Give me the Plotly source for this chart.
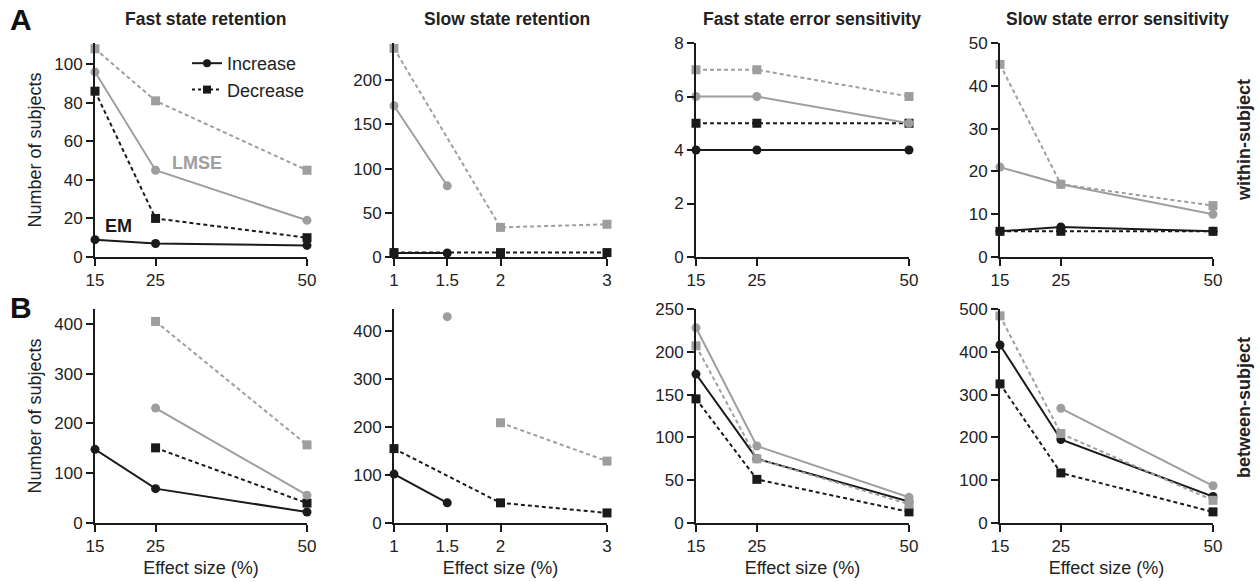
import plotly.graph_objects as go

# ---------------- data ----------------
x_fast = [15, 25, 50]
x_slow = [1, 1.5, 2, 3]

# Row A: within-subject
a1_em_inc = [9, 7, 6]
a1_em_dec = [86, 20, 10]
a1_lm_inc = [96, 45, 19]
a1_lm_dec = [108, 81, 45]

a2_em_inc = [4.5, 4.5, None, None]
a2_em_dec = [5, None, 5, 5]
a2_lm_inc = [171, 80.5, None, None]
a2_lm_dec = [236, None, 33.5, 37]

a3_em_inc = [4, 4, 4]
a3_em_dec = [5, 5, 5]
a3_lm_inc = [6, 6, 5]
a3_lm_dec = [7, 7, 6]

a4_em_inc = [6, 7, 6]
a4_em_dec = [6, 6, 6]
a4_lm_inc = [21, 17, 10]
a4_lm_dec = [45, 17, 12]

# Row B: between-subject
b1_em_inc = [148, 69, 22]
b1_em_dec = [None, 151, 40]
b1_lm_inc = [None, 231, 56]
b1_lm_dec = [None, 405, 157]

b2_em_inc = [102, 42, None, None]
b2_em_dec = [155, None, 42, 21]
b2_lm_inc = [None, 430, None, None]
b2_lm_dec = [None, None, 209, 129]

b3_em_inc = [174, 75, 25]
b3_em_dec = [145, 51, 13]
b3_lm_inc = [228, 90, 30]
b3_lm_dec = [207, 75, 22]

b4_em_inc = [416, 195, 62]
b4_em_dec = [325, 117, 26]
b4_lm_inc = [None, 268, 87]
b4_lm_dec = [484, 209, 53]

titles = ["Fast state retention", "Slow state retention",
          "Fast state error sensitivity", "Slow state error sensitivity"]
row_labels = ["within-subject", "between-subject"]

# ---------------- styling ----------------
BLACK = "#1a1a1a"
GRAY = "#9e9e9e"
TXT = "#222222"
FONT = "Liberation Sans, Arial, sans-serif"
W, H = 1260, 582
TICK = 17
LAB = 18

panels = [
    (x_fast, (a1_em_inc, a1_em_dec, a1_lm_inc, a1_lm_dec), 111, 20),
    (x_slow, (a2_em_inc, a2_em_dec, a2_lm_inc, a2_lm_dec), 242, 50),
    (x_fast, (a3_em_inc, a3_em_dec, a3_lm_inc, a3_lm_dec), 8, 2),
    (x_fast, (a4_em_inc, a4_em_dec, a4_lm_inc, a4_lm_dec), 50, 10),
    (x_fast, (b1_em_inc, b1_em_dec, b1_lm_inc, b1_lm_dec), 430, 100),
    (x_slow, (b2_em_inc, b2_em_dec, b2_lm_inc, b2_lm_dec), 446, 100),
    (x_fast, (b3_em_inc, b3_em_dec, b3_lm_inc, b3_lm_dec), 250, 50),
    (x_fast, (b4_em_inc, b4_em_dec, b4_lm_inc, b4_lm_dec), 500, 100),
]

col_px = [(95, 307), (394, 607), (696, 909), (1000, 1213)]
row_px = [(43, 257), (309, 523)]

fig = go.Figure()
layout = {}

for i, (xv, series, ytop, dt) in enumerate(panels):
    r, c = divmod(i, 4)
    n = i + 1
    xa = "x" if n == 1 else f"x{n}"
    ya = "y" if n == 1 else f"y{n}"
    em_inc, em_dec, lm_inc, lm_dec = series
    specs = [
        (em_inc, BLACK, "solid", "circle"),
        (em_dec, BLACK, "4px,3px", "square"),
        (lm_inc, GRAY, "solid", "circle"),
        (lm_dec, GRAY, "4px,3px", "square"),
    ]
    for yv, col, dash, sym in specs:
        fig.add_trace(go.Scatter(
            x=xv, y=yv, xaxis=xa, yaxis=ya, mode="lines+markers",
            line=dict(color=col, width=2, dash=dash),
            marker=dict(color=col, size=9, symbol=sym),
            connectgaps=True, cliponaxis=False, showlegend=False,
            hoverinfo="x+y"))
    x0, x1 = col_px[c]
    y0, y1 = row_px[r]
    xkey = "xaxis" if n == 1 else f"xaxis{n}"
    ykey = "yaxis" if n == 1 else f"yaxis{n}"
    layout[xkey] = dict(
        domain=[x0 / W, x1 / W], anchor=ya, range=[xv[0], xv[-1]],
        automargin=False,
        tickmode="array", tickvals=xv, ticktext=[str(v) for v in xv],
        showline=True, linecolor=BLACK, linewidth=2, ticks="outside",
        ticklen=7, tickwidth=2, tickcolor=BLACK, showgrid=False,
        zeroline=False, tickfont=dict(size=TICK, color=TXT, family=FONT),
        title=dict(text="Effect size (%)" if r == 1 else "",
                   font=dict(size=LAB, color=TXT, family=FONT), standoff=6),
    )
    layout[ykey] = dict(
        domain=[1 - y1 / H, 1 - y0 / H], anchor=xa, range=[0, ytop],
        automargin=False,
        tick0=0, dtick=dt, showline=True, linecolor=BLACK, linewidth=2,
        ticks="outside", ticklen=7, tickwidth=2, tickcolor=BLACK,
        showgrid=False, zeroline=False,
        tickfont=dict(size=TICK, color=TXT, family=FONT),
        title=dict(text="Number of subjects" if c == 0 else "",
                   font=dict(size=LAB, color=TXT, family=FONT), standoff=8),
    )

# legend entries (dummy traces)
fig.add_trace(go.Scatter(x=[None], y=[None], mode="lines+markers", name="Increase",
                         line=dict(color=BLACK, width=2),
                         marker=dict(color=BLACK, size=8, symbol="circle")))
fig.add_trace(go.Scatter(x=[None], y=[None], mode="lines+markers", name="Decrease",
                         line=dict(color=BLACK, width=2, dash="dot"),
                         marker=dict(color=BLACK, size=8, symbol="square")))

annotations = []
title_cx = [205, 507, 812, 1117]
for t, cx in zip(titles, title_cx):
    annotations.append(dict(text=f"<b>{t}</b>", x=cx / W, y=1 - 19 / H,
                            xref="paper", yref="paper", showarrow=False,
                            font=dict(size=17.5, color=TXT, family=FONT),
                            xanchor="center", yanchor="middle"))
annotations.append(dict(text="<b>A</b>", x=8 / W, y=1 - 20 / H, xref="paper", yref="paper",
                        showarrow=False, font=dict(size=30, color="#111", family=FONT),
                        xanchor="left", yanchor="middle"))
annotations.append(dict(text="<b>B</b>", x=8 / W, y=1 - 307 / H, xref="paper", yref="paper",
                        showarrow=False, font=dict(size=30, color="#111", family=FONT),
                        xanchor="left", yanchor="middle"))
annotations.append(dict(text="<b>within-subject</b>", x=1244 / W, y=1 - 140 / H,
                        xref="paper", yref="paper", showarrow=False, textangle=-90,
                        font=dict(size=18, color=TXT, family=FONT),
                        xanchor="center", yanchor="middle"))
annotations.append(dict(text="<b>between-subject</b>", x=1244 / W, y=1 - 408 / H,
                        xref="paper", yref="paper", showarrow=False, textangle=-90,
                        font=dict(size=18, color=TXT, family=FONT),
                        xanchor="center", yanchor="middle"))
annotations.append(dict(text="<b>LMSE</b>", x=197 / W, y=1 - 163 / H, xref="paper", yref="paper",
                        showarrow=False, font=dict(size=18, color=GRAY, family=FONT),
                        xanchor="center", yanchor="middle"))
annotations.append(dict(text="<b>EM</b>", x=118 / W, y=1 - 226 / H, xref="paper", yref="paper",
                        showarrow=False, font=dict(size=18, color=BLACK, family=FONT),
                        xanchor="center", yanchor="middle"))

fig.update_layout(
    template="none",
    width=W, height=H, margin=dict(l=0, r=0, t=0, b=0, pad=0, autoexpand=False),
    paper_bgcolor="white", plot_bgcolor="white",
    font=dict(family=FONT, color=TXT),
    showlegend=True,
    legend=dict(x=187 / W, y=1 - 45 / H, xanchor="left", yanchor="top",
                bgcolor="rgba(0,0,0,0)", font=dict(size=18, color=TXT, family=FONT),
                tracegroupgap=0, itemwidth=30, borderwidth=0),
    annotations=annotations,
    **layout,
)

fig.write_html("out.html", config={"displayModeBar": False},
               post_script="document.body.style.margin='0';document.body.style.overflow='hidden';")
